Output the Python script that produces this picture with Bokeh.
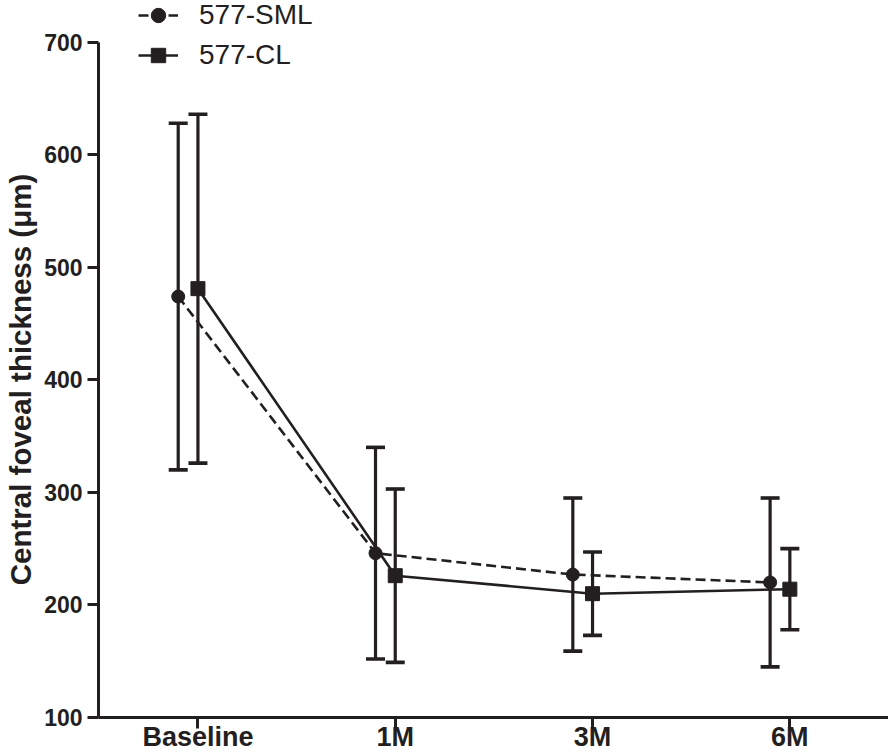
from bokeh.plotting import figure
from bokeh.models import (Range1d, FixedTicker, Whisker, TeeHead, ColumnDataSource,
                          Legend, LegendItem)
from bokeh.embed import file_html
from bokeh.resources import INLINE

# ---- data ----
categories = ["Baseline", "1M", "3M", "6M"]
sml_mean = [474, 246, 227, 220]
sml_sd = [154, 94, 68, 75]
cl_mean = [481, 226, 210, 214]
cl_sd = [155, 77, 37, 36]
y_ticks = [100, 200, 300, 400, 500, 600, 700]

INK = "#231f20"
FONT = "Liberation Sans"
SML_SHIFT = -0.1

xs = list(range(len(categories)))
sml_x = [x + SML_SHIFT for x in xs]
cl_x = list(xs)

p = figure(width=888, height=754, output_backend="svg", toolbar_location=None,
           x_range=Range1d(-0.504, 3.5), y_range=Range1d(100, 737),
           min_border_left=98, min_border_top=0, min_border_right=0,
           min_border_bottom=0)
p.outline_line_color = None
p.grid.visible = False
p.background_fill_color = "white"

# error bars
for x, m, s in ((sml_x, sml_mean, sml_sd), (cl_x, cl_mean, cl_sd)):
    src = ColumnDataSource(dict(base=x,
                                upper=[a + b for a, b in zip(m, s)],
                                lower=[a - b for a, b in zip(m, s)]))
    w = Whisker(source=src, base="base", upper="upper", lower="lower",
                dimension="height", line_color=INK, line_width=3.2,
                upper_head=TeeHead(size=19, line_color=INK, line_width=3.6),
                lower_head=TeeHead(size=19, line_color=INK, line_width=3.6))
    p.add_layout(w)

l1 = p.line(sml_x, sml_mean, line_color=INK, line_width=2.6, line_dash="10 5")
s1 = p.scatter(sml_x, sml_mean, marker="circle", size=13, fill_color=INK, line_color=INK)
l2 = p.line(cl_x, cl_mean, line_color=INK, line_width=2.6)
s2 = p.scatter(cl_x, cl_mean, marker="square", size=14, fill_color=INK, line_color=INK)

legend = Legend(items=[LegendItem(label="577-SML", renderers=[l1, s1]),
                       LegendItem(label="577-CL", renderers=[l2, s2])],
                location=(40, 644), padding=0, margin=0, spacing=4,
                glyph_width=40, glyph_height=36, label_height=36,
                label_standoff=21, border_line_color=None,
                background_fill_alpha=0,
                label_text_font=FONT, label_text_font_size="28px",
                label_text_color=INK)
p.add_layout(legend)

# axes
p.xaxis.ticker = FixedTicker(ticks=xs)
p.xaxis.major_label_overrides = {i: c for i, c in enumerate(categories)}
p.yaxis.ticker = FixedTicker(ticks=y_ticks)
p.yaxis.bounds = (100, 700)
for ax in (p.xaxis[0], p.yaxis[0]):
    ax.axis_line_color = INK
    ax.axis_line_width = 3
    ax.major_tick_line_color = INK
    ax.major_tick_line_width = 3
    ax.major_tick_out = 11
    ax.major_tick_in = 0
    ax.minor_tick_line_color = None
    ax.major_label_text_font = FONT
    ax.major_label_text_font_style = "bold"
    ax.major_label_text_color = INK

p.xaxis.major_label_text_font_size = "27px"
p.xaxis.major_label_standoff = -7
p.yaxis.major_label_text_font_size = "23px"
p.yaxis.major_label_standoff = 5
# trailing no-break spaces centre the title on the drawn axis (100-700)
p.yaxis.axis_label = "Central foveal thickness (μm)" + "\u00a0" * 5
p.yaxis.axis_label_text_font = FONT
p.yaxis.axis_label_text_font_style = "bold"
p.yaxis.axis_label_text_font_size = "29.5px"
p.yaxis.axis_label_text_color = INK
p.yaxis.axis_label_standoff = 4

open("out.html", "w").write(file_html(p, INLINE))
